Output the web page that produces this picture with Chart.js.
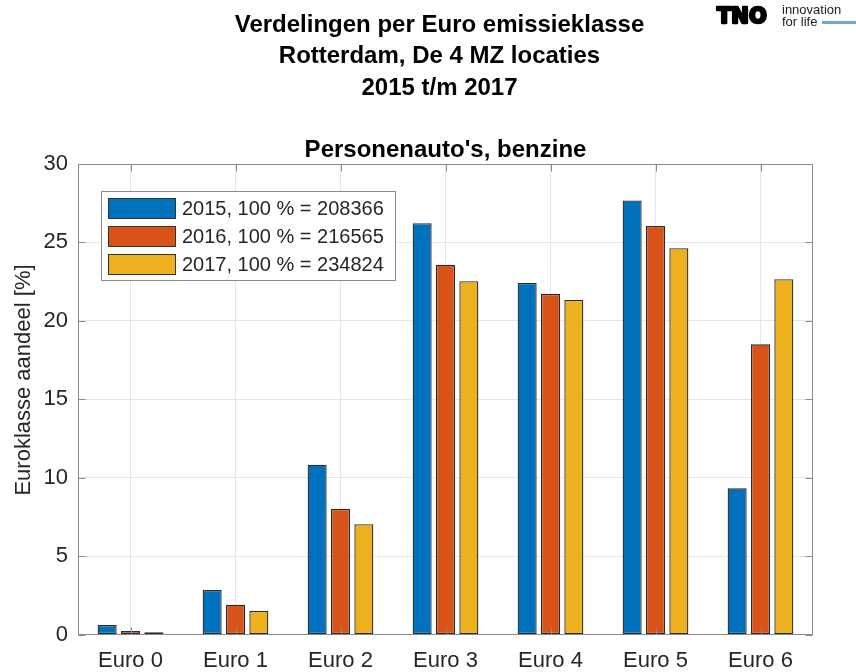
<!DOCTYPE html>
<html>
<head>
<meta charset="utf-8">
<script src="https://cdn.jsdelivr.net/npm/chart.js@4.4.1/dist/chart.umd.min.js"></script>
<style>
  html, body { margin: 0; padding: 0; background: #fff; }
  canvas { display: block; }
</style>
</head>
<body>
<canvas id="euro-chart" width="856" height="672"></canvas>
<script>
// data
const categories = ["Euro 0", "Euro 1", "Euro 2", "Euro 3", "Euro 4", "Euro 5", "Euro 6"];
const years = ["2015", "2016", "2017"];
const totals = [208366, 216565, 234824];
const share2015 = [0.61, 2.84, 10.83, 26.22, 22.42, 27.67, 9.32];
const share2016 = [0.22, 1.90, 8.00, 23.58, 21.72, 26.05, 18.50];
const share2017 = [0.14, 1.50, 7.03, 22.53, 21.33, 24.63, 22.65];
const yMin = 0, yMax = 30, yStep = 5;

const titleLines = ["Verdelingen per Euro emissieklasse", "Rotterdam, De 4 MZ locaties", "2015 t/m 2017"];
const subTitle = "Personenauto's, benzine";
const yLabel = "Euroklasse aandeel [%]";

const colors = ["#0072BD", "#D95319", "#EDB120"];
const font = "'Liberation Sans', Arial, Helvetica, sans-serif";
const textColor = "#262626";
const axisColor = "#8a8a8a";

const figurePlugin = {
  id: "figure",
  beforeDraw(chart) {
    const ctx = chart.ctx;
    ctx.save();
    ctx.fillStyle = "#fff";
    ctx.fillRect(0, 0, chart.width, chart.height);
    ctx.restore();
  },
  afterDatasetsDraw(chart) {
    const ctx = chart.ctx,
      a = chart.chartArea,
      xs = chart.scales.x,
      ys = chart.scales.y;
    const L = Math.round(a.left) + 0.5, R = Math.round(a.right) - 0.5,
      T = Math.round(a.top) + 0.5, B = Math.round(a.bottom) - 0.5;
    ctx.save();
    ctx.strokeStyle = axisColor;
    ctx.lineWidth = 1;
    // box
    ctx.strokeRect(L, T, R - L, B - T);
    // inward ticks
    ctx.beginPath();
    ys.ticks.forEach((t) => {
      const y = Math.round(ys.getPixelForValue(t.value)) + 0.5;
      ctx.moveTo(L, y); ctx.lineTo(L + 7, y);
      ctx.moveTo(R, y); ctx.lineTo(R - 7, y);
    });
    categories.forEach((c, i) => {
      const x = Math.round(xs.getPixelForTick(i)) + 0.5;
      ctx.moveTo(x, B); ctx.lineTo(x, B - 7);
      ctx.moveTo(x, T); ctx.lineTo(x, T + 7);
    });
    ctx.stroke();

    // legend
    const lx = 101.5, ly = 191.5, lw = 294, lh = 89;
    ctx.fillStyle = "#fff";
    ctx.fillRect(lx, ly, lw, lh);
    ctx.strokeStyle = axisColor;
    ctx.strokeRect(lx, ly, lw, lh);
    ctx.font = "20px " + font;
    ctx.textBaseline = "middle";
    ctx.textAlign = "left";
    chart.data.datasets.forEach((ds, i) => {
      const top = 198 + i * 28;
      ctx.fillStyle = ds.backgroundColor;
      ctx.fillRect(108, top, 68, 21);
      ctx.strokeStyle = "#333";
      ctx.strokeRect(108.5, top + 0.5, 67, 20);
      ctx.fillStyle = textColor;
      ctx.fillText(ds.label, 182, top + 11.5);
    });
    ctx.restore();
  },
  afterDraw(chart) {
    const ctx = chart.ctx,
      a = chart.chartArea;
    const cx = (a.left + a.right) / 2;
    ctx.save();
    ctx.fillStyle = "#000";
    ctx.textAlign = "center";
    ctx.textBaseline = "alphabetic";
    ctx.font = "bold 24px " + font;
    const baselines = [31.5, 63, 94.5];
    titleLines.forEach((t, i) => ctx.fillText(t, cx - 6, baselines[i]));
    ctx.fillText(subTitle, cx, 157);

    // y label
    ctx.fillStyle = textColor;
    ctx.font = "22px " + font;
    ctx.textBaseline = "middle";
    ctx.translate(24, 380);
    ctx.rotate(-Math.PI / 2);
    ctx.fillText(yLabel, 0, 0);
    ctx.setTransform(1, 0, 0, 1, 0, 0);

    // TNO logo
    ctx.fillStyle = "#000";
    ctx.strokeStyle = "#000";
    ctx.lineWidth = 2.5;
    ctx.lineJoin = "round";
    ctx.textAlign = "left";
    ctx.textBaseline = "alphabetic";
    ctx.font = "bold 21px 'DejaVu Sans', sans-serif";
    ctx.strokeText("TNO", 717, 23);
    ctx.fillText("TNO", 717, 23);
    ctx.font = "13px " + font;
    ctx.fillStyle = "#222";
    ctx.fillText("innovation", 782, 14);
    ctx.fillText("for life", 782, 26);
    ctx.fillStyle = "#6fa8dc";
    ctx.fillRect(822, 21, 34, 3);
    ctx.restore();
  },
};

const seriesValues = [share2015, share2016, share2017];

new Chart(document.getElementById("euro-chart"), {
  type: "bar",
  data: {
    labels: categories,
    datasets: years.map((y, i) => ({
      label: y + ", 100 % = " + totals[i],
      data: seriesValues[i],
      backgroundColor: colors[i],
      borderColor: "#2b2b2b",
      borderWidth: 1.3,
      borderSkipped: false,
      categoryPercentage: 0.667,
      barPercentage: 0.815,
    })),
  },
  options: {
    responsive: false,
    animation: false,
    layout: { padding: { top: 164, right: 43, left: 0, bottom: 0 } },
    plugins: {
      legend: { display: false },
      tooltip: { enabled: false },
      title: { display: false },
    },
    scales: {
      x: {
        grid: { offset: false, color: "#e6e6e6", drawTicks: false },
        border: { display: false },
        ticks: {
          color: textColor,
          font: { family: font, size: 22 },
          padding: 13,
          maxRotation: 0,
          autoSkip: false,
        },
        afterFit(s) { s.height = 37.5; },
      },
      y: {
        min: yMin,
        max: yMax,
        grid: { color: "#e6e6e6", drawTicks: false },
        border: { display: false },
        ticks: {
          stepSize: yStep,
          color: textColor,
          font: { family: font, size: 22 },
          padding: 10,
        },
        afterFit(s) { s.width = 78; },
      },
    },
  },
  plugins: [figurePlugin],
});
</script>
</body>
</html>
